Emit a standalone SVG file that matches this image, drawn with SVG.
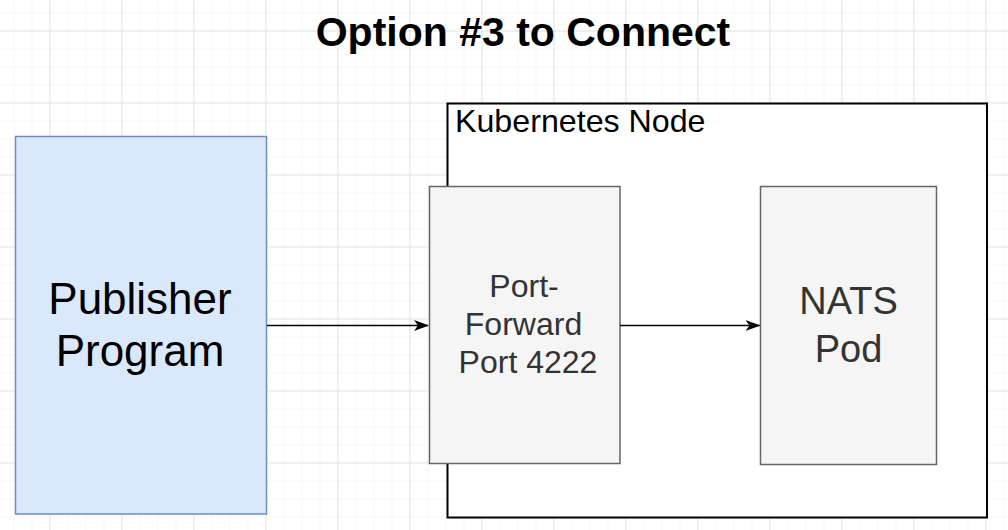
<svg xmlns="http://www.w3.org/2000/svg" width="1008" height="530" viewBox="0 0 1008 530">
  <defs>
    <pattern id="minor" x="13.5" y="12.5" width="18" height="18" patternUnits="userSpaceOnUse">
      <path d="M0 0 H18 M0 0 V18" fill="none" stroke="#f0f0f0" stroke-width="1"/>
    </pattern>
    <pattern id="major" x="49.5" y="30.5" width="72" height="72" patternUnits="userSpaceOnUse">
      <path d="M0 0 H72 M0 0 V72" fill="none" stroke="#d0d0d0" stroke-width="1"/>
    </pattern>
    <marker id="arrow" viewBox="0 0 15 11" refX="14" refY="5.5" markerWidth="15" markerHeight="11" markerUnits="userSpaceOnUse" orient="auto">
      <path d="M0 0 L15 5.5 L0 11 L4 5.5 Z" fill="#000"/>
    </marker>
    <style>
      text { font-family: "Liberation Sans", Arial, Helvetica, sans-serif; }
      .gray { fill: #f5f5f5; stroke: #666666; stroke-width: 1.5; }
      .gtxt { fill: #333333; text-anchor: middle; }
      .edge { fill: none; stroke: #000; stroke-width: 1.5; }
    </style>
  </defs>
  <rect width="1008" height="530" fill="#ffffff"/>
  <rect width="1008" height="530" fill="url(#minor)"/>
  <rect width="1008" height="530" fill="url(#major)"/>

  <g id="title">
    <text x="523" y="45.5" font-size="41" font-weight="bold" text-anchor="middle" fill="#000">Option #3 to Connect</text>
  </g>

  <g id="kubernetes-node">
    <rect x="447.5" y="103.5" width="539.5" height="414" fill="#ffffff" stroke="#000" stroke-width="2"/>
    <text x="455" y="131.5" font-size="32.2" fill="#000">Kubernetes Node</text>
  </g>

  <g id="publisher">
    <rect x="15.5" y="136.5" width="251" height="377.5" fill="#dae8fc" stroke="#6c8ebf" stroke-width="1.5"/>
    <text x="140" y="313.5" font-size="44" text-anchor="middle" fill="#000">Publisher</text>
    <text x="140" y="365.5" font-size="44" text-anchor="middle" fill="#000">Program</text>
  </g>

  <g id="port-forward">
    <rect class="gray" x="429.5" y="186.5" width="190.5" height="277"/>
    <text class="gtxt" x="524" y="297" font-size="32">Port-</text>
    <text class="gtxt" x="523.5" y="335" font-size="32">Forward</text>
    <text class="gtxt" x="528" y="373" font-size="32">Port 4222</text>
  </g>

  <g id="nats-pod">
    <rect class="gray" x="760.5" y="186.5" width="176" height="278"/>
    <text class="gtxt" x="848.5" y="314" font-size="38">NATS</text>
    <text class="gtxt" x="848.5" y="362" font-size="38">Pod</text>
  </g>

  <g id="connectors">
    <path class="edge" d="M267 325.5 H428" marker-end="url(#arrow)"/>
    <path class="edge" d="M620 325.5 H759.5" marker-end="url(#arrow)"/>
  </g>
</svg>
